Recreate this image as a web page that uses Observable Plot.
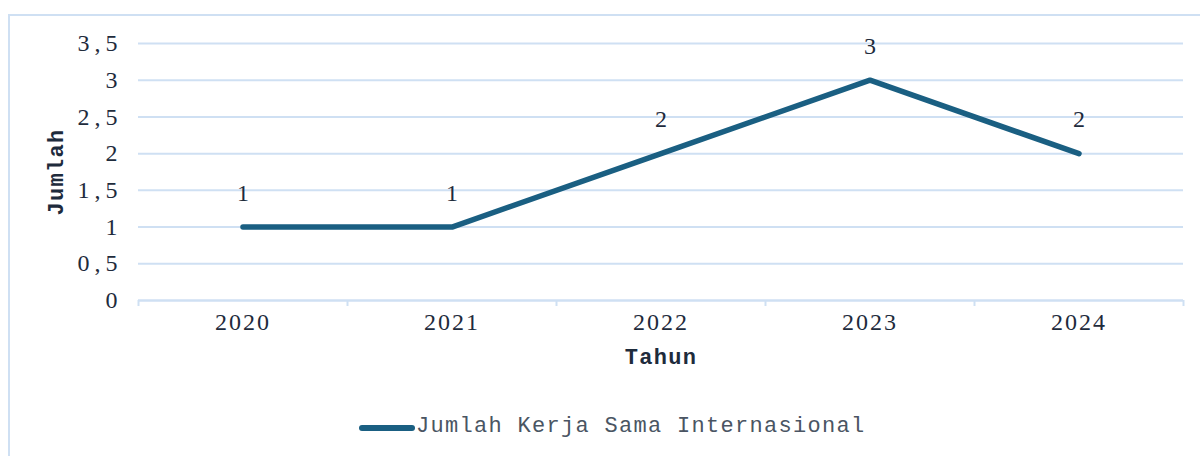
<!DOCTYPE html>
<html>
<head>
<meta charset="utf-8">
<script src="https://cdn.jsdelivr.net/npm/d3@7"></script>
<script src="https://cdn.jsdelivr.net/npm/@observablehq/plot@0.6"></script>
<style>
  body { margin: 0; background: #fff; }
  #wrap { position: relative; width: 1200px; height: 456px; overflow: hidden; }
  #frame { position: absolute; left: 8px; top: 14px; width: 1300px; height: 500px; border: 2px solid #cfe0f3; box-sizing: border-box; }
  #chart { position: absolute; left: 0; top: 0; }
  g[aria-label="x-axis tick label"] text, g[aria-label="y-axis tick label"] text { font-family: "Liberation Serif", "Times New Roman", serif !important; font-size: 24px !important; }
  g[aria-label="x-axis tick label"] text { letter-spacing: 2px; }
  g[aria-label="y-axis tick label"] text { letter-spacing: 5px; }
  .mono-title text { letter-spacing: 1.3px; }
  #legend { position: relative; height: 56px; width: 1200px; }
  #legend svg { position: absolute; left: 358px; top: 22px; }
  #legend span { position: absolute; left: 416px; top: 14px; font-family: "Liberation Mono", "DejaVu Sans Mono", monospace; font-size: 22px; letter-spacing: 1.3px; color: #4a5563; white-space: nowrap; }
</style>
</head>
<body>
<div id="wrap">
  <div id="frame"></div>
  <div id="chart"></div>
</div>
<script>
const years = [2020, 2021, 2022, 2023, 2024];
const values = [1, 1, 2, 3, 2];
const yTicks = [0, 0.5, 1, 1.5, 2, 2.5, 3, 3.5];
const seriesName = "Jumlah Kerja Sama Internasional";
const yTitle = "Jumlah";
const xTitle = "Tahun";

const data = years.map((year, i) => ({year, value: values[i]}));
const boundaries = [years[0] - 0.5, ...years.map(y => y + 0.5)];

const lineColor = "#1a5f82";
const gridColor = "#cfe0f3";
const textColor = "#1e2b3c";
const serif = "Liberation Serif, Times New Roman, serif";
const mono = "Liberation Mono, DejaVu Sans Mono, monospace";

const plot = Plot.plot({
  width: 1200,
  height: 400,
  marginLeft: 138,
  marginRight: 17,
  marginTop: 43,
  marginBottom: 100,
  style: {background: "transparent", color: textColor, overflow: "visible"},
  x: {type: "linear", domain: [years[0] - 0.5, years[years.length - 1] + 0.5]},
  y: {domain: [0, 3.5]},
  marks: [
    Plot.gridY(yTicks, {stroke: gridColor, strokeOpacity: 1, strokeWidth: 2}),
    Plot.axisY(yTicks, {tickSize: 0, tickPadding: 16, fontSize: 24, fontFamily: serif, fill: textColor,
      tickFormat: d => String(d).replace(".", ","), label: null}),
    Plot.axisX(years, {tickSize: 0, tickPadding: 12, fontSize: 24, fontFamily: serif, fill: textColor,
      tickFormat: d => String(d), label: null}),
    Plot.axisX(boundaries, {tickSize: 6, stroke: gridColor, strokeWidth: 2, strokeOpacity: 1, tickFormat: () => "", label: null}),
    Plot.ruleY([0], {stroke: gridColor, strokeWidth: 2}),
    Plot.line(data, {x: "year", y: "value", stroke: lineColor, strokeWidth: 5.5, strokeLinecap: "round", strokeLinejoin: "miter"}),
    Plot.text(data, {x: "year", y: "value", text: d => String(d.value), dy: -34, fontSize: 24, fontFamily: serif, fill: textColor}),
    Plot.text([yTitle], {frameAnchor: "left", dx: -83, rotate: -90, textAnchor: "middle", fontSize: 22, fontWeight: "bold", fontFamily: mono, fill: textColor, className: "mono-title"}),
    Plot.text([xTitle], {frameAnchor: "bottom", dy: 63, textAnchor: "middle", fontSize: 22, fontWeight: "bold", fontFamily: mono, fill: textColor, className: "mono-title"})
  ]
});

const chart = document.getElementById("chart");
chart.appendChild(plot);

const legend = document.createElement("div");
legend.id = "legend";
legend.innerHTML = `<svg width="58" height="12"><line x1="4" y1="6" x2="54" y2="6" stroke="${lineColor}" stroke-width="6" stroke-linecap="round"/></svg><span></span>`;
legend.querySelector("span").textContent = seriesName;
chart.appendChild(legend);
</script>
</body>
</html>
